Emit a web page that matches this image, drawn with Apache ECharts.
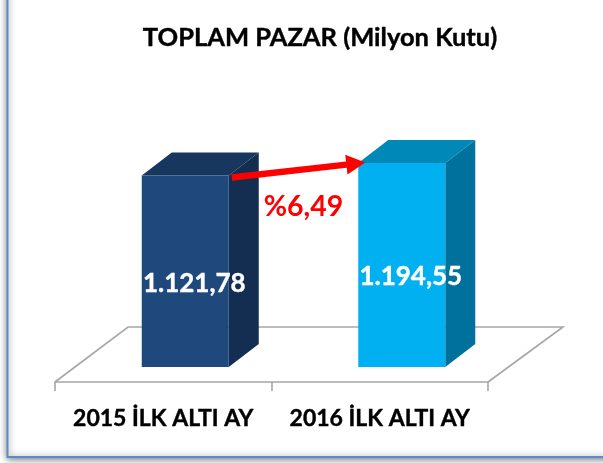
<!DOCTYPE html>
<html>
<head>
<meta charset="utf-8">
<style>
  html, body { margin: 0; padding: 0; background: #fff; }
  #chart { width: 603px; height: 463px; }
</style>
<script src="https://cdn.jsdelivr.net/npm/echarts@6/dist/echarts.min.js"></script>
</head>
<body>
<div id="chart"></div>
<script>
const categories = ['2015 İLK ALTI AY', '2016 İLK ALTI AY']
const values = [1121.78, 1194.55]
const valueLabels = ['1.121,78', '1.194,55']
const changeLabel = '%6,49'
const titleText = 'TOPLAM PAZAR (Milyon Kutu)'

const frontColors = ['#1f497d', '#00b0f0']
const topColors = ['#18375f', '#0088b8']
const sideColors = ['#142e52', '#00709c']
const font = 'Lato, "Open Sans", sans-serif'

const barWidth = 87
const barShift = 22 // front face sits right of the band centre
const depthX = 30
const depthY = 23

function poly(points, color) {
  return { type: 'polygon', shape: { points: points }, style: { fill: color } }
}

function renderFloor(params, api) {
  const cs = params.coordSys
  const front = cs.y + cs.height + 15
  const back = cs.y + cs.height - 40
  return {
    type: 'polyline',
    shape: {
      points: [
        [cs.x, front],
        [cs.x + 73, back],
        [cs.x + cs.width + 75, back],
        [cs.x + cs.width, front]
      ]
    },
    style: { fill: null, stroke: '#a6a6a6', lineWidth: 1.6 }
  }
}

function renderBar(params, api) {
  const i = api.value(0)
  const top = api.coord([i, api.value(1)])
  const base = api.coord([i, 0])
  const l = top[0] + barShift - barWidth / 2
  const r = l + barWidth
  return {
    type: 'group',
    children: [
      poly([[r, top[1]], [r + depthX, top[1] - depthY], [r + depthX, base[1] - depthY], [r, base[1]]], sideColors[i]),
      poly([[l, top[1]], [l + depthX, top[1] - depthY], [r + depthX, top[1] - depthY], [r, top[1]]], topColors[i]),
      poly([[l, top[1]], [r, top[1]], [r, base[1]], [l, base[1]]], frontColors[i]),
      {
        type: 'text',
        style: {
          text: valueLabels[i],
          x: top[0] + 31,
          y: (top[1] + base[1]) / 2 + 12,
          fill: '#fff',
          stroke: '#fff',
          lineWidth: 0.4,
          font: 'bold 26px ' + font,
          align: 'center',
          verticalAlign: 'middle'
        }
      }
    ]
  }
}

// arrow runs from the first bar's front top corner to the second one's
function renderArrow(params, api) {
  const a = api.coord([0, values[0]])
  const b = api.coord([1, values[1]])
  const x0 = a[0] + barShift + barWidth / 2 + 3
  const y0 = a[1] + 2
  const x1 = b[0] + barShift - barWidth / 2 + 7
  const y1 = b[1] - 0.5
  const len = Math.hypot(x1 - x0, y1 - y0)
  const ux = (x1 - x0) / len
  const uy = (y1 - y0) / len
  const at = (along, off) => [x0 + ux * along - uy * off, y0 + uy * along + ux * off]
  return {
    type: 'group',
    children: [
      poly([at(0, -3.2), at(len - 19, -3.2), at(len - 19, -10), at(len, 0), at(len - 19, 10), at(len - 19, 3.2), at(0, 3.2)], '#ff0000'),
      {
        type: 'text',
        style: {
          text: changeLabel,
          x: (x0 + x1) / 2 + 5,
          y: 207,
          fill: '#ff0000',
          font: 'bold 28.5px ' + font,
          align: 'center',
          verticalAlign: 'middle',
          shadowColor: 'rgba(255,120,120,0.8)',
          shadowBlur: 3
        }
      }
    ]
  }
}

const chart = echarts.init(document.getElementById('chart'))
chart.setOption({
  animation: false,
  backgroundColor: '#fff',
  title: {
    text: titleText,
    left: 315,
    top: 20,
    textAlign: 'center',
    textStyle: { fontFamily: font, fontSize: 25.5, fontWeight: 'bold', color: '#000', textBorderColor: '#000', textBorderWidth: 0.4 }
  },
  graphic: [
    {
      type: 'rect',
      silent: true,
      z: -1,
      shape: { x: 7.5, y: -20, width: 640, height: 477 },
      style: { fill: '#fff', stroke: '#5b8bc9', lineWidth: 2, shadowColor: 'rgba(0,0,0,0.55)', shadowBlur: 7, shadowOffsetY: 1 }
    }
  ],
  grid: { left: 55, right: 115, top: 128, bottom: 96 },
  xAxis: {
    type: 'category',
    data: categories,
    offset: 15,
    axisLine: { onZero: false, lineStyle: { color: '#a6a6a6', width: 1.6 } },
    axisTick: { show: true, length: 9, lineStyle: { color: '#a6a6a6', width: 1.6 } },
    axisLabel: {
      interval: 0,
      hideOverlap: false,
      margin: 25,
      fontFamily: font,
      fontSize: 23,
      fontWeight: 'bold',
      color: '#000',
      textBorderColor: '#000',
      textBorderWidth: 0.4
    }
  },
  yAxis: { type: 'value', min: 0, max: 1400, show: false },
  series: [
    { type: 'custom', z: 1, renderItem: renderFloor, data: [0] },
    { type: 'custom', z: 2, renderItem: renderBar, data: values.map((v, i) => [i, v]), encode: { x: 0, y: 1 } },
    { type: 'custom', z: 3, renderItem: renderArrow, data: [0] }
  ]
})
</script>
</body>
</html>
